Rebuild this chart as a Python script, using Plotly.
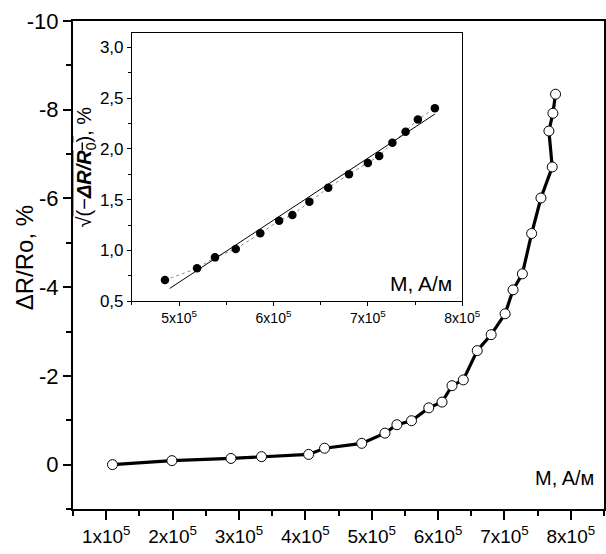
import plotly.graph_objects as go

# Main curve: M (A/m) vs dR/Ro (%)
main_x = [1.095e5, 1.99e5, 2.88e5, 3.34e5, 4.05e5, 4.29e5, 4.85e5, 5.20e5, 5.38e5, 5.60e5,
          5.86e5, 6.06e5, 6.21e5, 6.38e5, 6.59e5, 6.80e5, 7.01e5, 7.13e5, 7.27e5, 7.41e5,
          7.55e5, 7.72e5, 7.67e5, 7.73e5, 7.77e5]
main_y = [0.0, -0.09, -0.14, -0.18, -0.23, -0.37, -0.48, -0.71, -0.90, -0.99,
          -1.28, -1.41, -1.78, -1.91, -2.57, -2.93, -3.40, -3.94, -4.30, -5.21,
          -6.01, -6.71, -7.52, -7.92, -8.35]

# Inset: sqrt(-dR/R0) vs M
inset_x = [4.85e5, 5.19e5, 5.38e5, 5.60e5, 5.86e5, 6.06e5, 6.20e5, 6.38e5, 6.58e5, 6.80e5,
           7.00e5, 7.12e5, 7.26e5, 7.40e5, 7.53e5, 7.71e5]
inset_y = [0.707, 0.823, 0.931, 1.013, 1.168, 1.293, 1.349, 1.48, 1.618, 1.75,
           1.86, 1.93, 2.06, 2.17, 2.29, 2.40]
fit_x = [4.90e5, 7.71e5]
fit_y = [0.625, 2.343]

main_xticks = [1e5, 2e5, 3e5, 4e5, 5e5, 6e5, 7e5, 8e5]
main_xticktext = ["%dx10<sup>5</sup>" % i for i in range(1, 9)]
main_yticks = [-10, -8, -6, -4, -2, 0]
main_yticktext = ["-10", "-8", "-6", "-4", "-2", "0"]
inset_xticks = [5e5, 6e5, 7e5, 8e5]
inset_xticktext = ["%dx10<sup>5</sup>" % i for i in range(5, 9)]
inset_yticks = [0.5, 1.0, 1.5, 2.0, 2.5, 3.0]
inset_yticktext = ["0,5", "1,0", "1,5", "2,0", "2,5", "3,0"]

FONT = "Liberation Sans, Arial, sans-serif"

fig = go.Figure()
fig.add_trace(go.Scatter(
    x=main_x, y=main_y, mode="lines+markers",
    line=dict(color="black", width=3.2),
    marker=dict(symbol="circle", size=10, color="white", line=dict(color="black", width=1)),
    xaxis="x", yaxis="y", showlegend=False))

fig.add_trace(go.Scatter(
    x=inset_x, y=inset_y, mode="lines+markers",
    line=dict(color="#888888", width=1, dash="dot"),
    marker=dict(symbol="circle", size=8.5, color="black"),
    xaxis="x2", yaxis="y2", showlegend=False))
fig.add_trace(go.Scatter(
    x=fit_x, y=fit_y, mode="lines",
    line=dict(color="black", width=1),
    xaxis="x2", yaxis="y2", showlegend=False))

axis_common = dict(showline=True, linecolor="black", mirror=True, showgrid=False,
                   zeroline=False, ticks="outside", tickcolor="black", automargin=False)

fig.update_layout(
    width=606, height=554,
    margin=dict(l=73, r=2, t=21, b=45, autoexpand=False),
    paper_bgcolor="white", plot_bgcolor="white",
    font=dict(family=FONT, color="black"),
    xaxis=dict(**axis_common, linewidth=2, range=[0.5e5, 8.5e5], tickvals=main_xticks,
               ticktext=main_xticktext, ticklen=9, tickwidth=2,
               tickfont=dict(size=19), domain=[0, 1],
               minor=dict(ticks="outside", ticklen=5, tickwidth=2, tickcolor="black",
                          dtick=0.5e5, tick0=0.5e5, showgrid=False)),
    yaxis=dict(**axis_common, linewidth=2, range=[1, -10], tickvals=main_yticks,
               ticktext=main_yticktext,
               ticklen=8, tickwidth=2, tickfont=dict(size=22), domain=[0, 1],
               minor=dict(ticks="outside", ticklen=5, tickwidth=2, tickcolor="black",
                          dtick=1, tick0=0, showgrid=False)),
    xaxis2=dict(**axis_common, linewidth=1, range=[4.5e5, 8e5], tickvals=inset_xticks,
                ticktext=inset_xticktext, ticklen=4, tickwidth=1,
                tickfont=dict(size=14), domain=[0.111, 0.733], anchor="y2",
                minor=dict(ticks="outside", ticklen=3, tickwidth=1, tickcolor="black",
                           dtick=0.5e5, tick0=0.5e5, showgrid=False)),
    yaxis2=dict(**axis_common, linewidth=1, range=[0.5, 3.14], tickvals=inset_yticks,
                ticktext=inset_yticktext, ticklen=4, tickwidth=1,
                tickfont=dict(size=17), domain=[0.426, 0.975], anchor="x2",
                title=dict(text="√<span style='text-decoration:overline'>(−<b><i>ΔR/R</i></b><sub>0</sub>)</span>, %",
                           font=dict(size=20), standoff=2),
                minor=dict(ticks="outside", ticklen=3, tickwidth=1, tickcolor="black",
                           dtick=0.25, tick0=0.5, showgrid=False)),
    annotations=[
        dict(text="ΔR/Ro, %", xref="paper", yref="paper", x=-0.092, y=0.514,
             xanchor="center", yanchor="middle", textangle=-90, showarrow=False,
             font=dict(size=24)),
        dict(text="M, A/м", xref="paper", yref="paper", x=0.985, y=0.064,
             xanchor="right", yanchor="middle", showarrow=False, font=dict(size=20)),
        dict(text="M, A/м", xref="paper", yref="paper", x=0.718, y=0.463,
             xanchor="right", yanchor="middle", showarrow=False, font=dict(size=21)),
    ],
)

fig.write_html("out.html", config={"displayModeBar": False},
               post_script="document.body.style.margin='0';document.body.style.overflow='hidden';")
